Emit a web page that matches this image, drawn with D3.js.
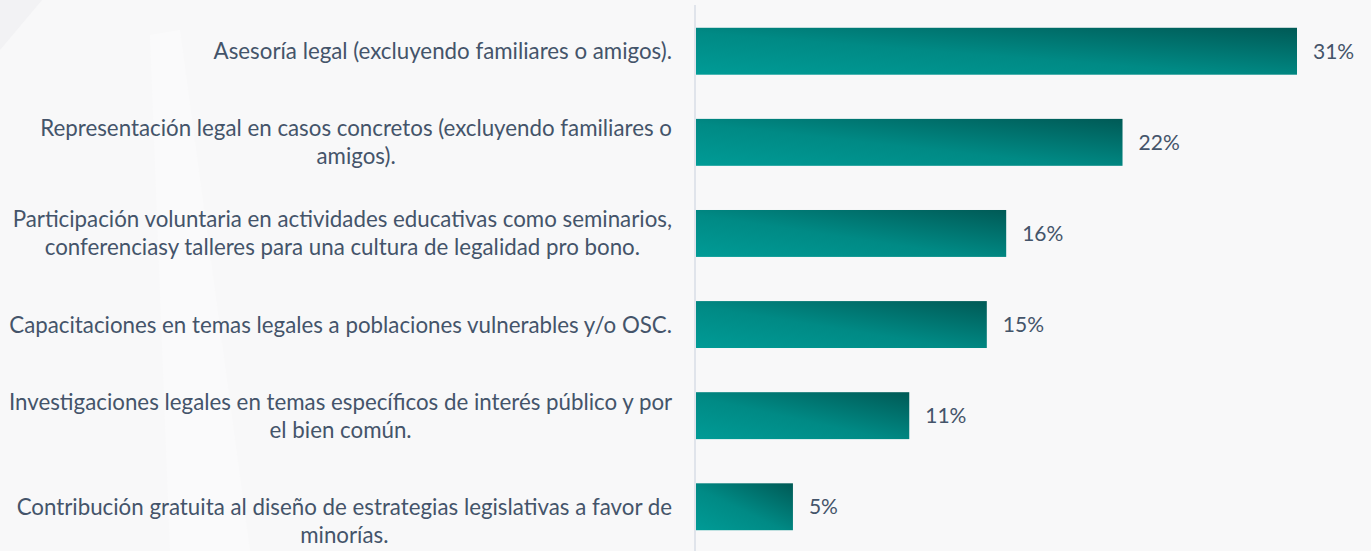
<!DOCTYPE html>
<html>
<head>
<meta charset="utf-8">
<script src="https://cdn.jsdelivr.net/npm/d3@7"></script>
<style>
  body { margin: 0; background: #f8f8f9; overflow: hidden; }
  svg { display: block; }
  .cat-label, .val-label { font-family: Lato, "Open Sans", sans-serif; fill: #44546a; }
</style>
</head>
<body>
<svg id="barChart"></svg>
<script>
// Data
const categories = [
  ["Asesoría legal (excluyendo familiares o amigos)."],
  ["Representación legal en casos concretos (excluyendo familiares o", "amigos)."],
  ["Participación voluntaria en actividades educativas como seminarios,", "conferenciasy talleres para una cultura de legalidad pro bono."],
  ["Capacitaciones en temas legales a poblaciones vulnerables y/o OSC."],
  ["Investigaciones legales en temas específicos de interés público y por", "el bien común."],
  ["Contribución gratuita al diseño de estrategias legislativas a favor de", "minorías."]
];
const values = [31, 22, 16, 15, 11, 5];

// Set dimensions and margins
const width = 1371;
const height = 551;
const margin = { top: 5, right: 74, bottom: 0, left: 696 };

const innerHeight = height - margin.top - margin.bottom;
const fontSize = 22.3;

const svg = d3.select("#barChart")
    .attr("width", width)
    .attr("height", height);

// faint background shapes
svg.append("rect").attr("width", width).attr("height", height).attr("fill", "#f8f8f9");
svg.append("polygon")
    .attr("points", "0,0 42,0 0,50")
    .attr("fill", "#f2f2f4");
svg.append("polygon")
    .attr("points", "150,35 180,30 250,551 170,551")
    .attr("fill", "#fafafb");

// gradient for bars
const grad = svg.append("defs").append("linearGradient")
    .attr("id", "barGrad")
    .attr("x1", "0").attr("y1", "1")
    .attr("x2", "1").attr("y2", "0");
grad.append("stop").attr("offset", "0%").attr("stop-color", "#009b96");
grad.append("stop").attr("offset", "45%").attr("stop-color", "#008a85");
grad.append("stop").attr("offset", "100%").attr("stop-color", "#005a56");

const chart = svg.append("g")
    .attr("transform", `translate(${margin.left}, ${margin.top})`);

// Scales
const x = d3.scaleLinear()
    .domain([0, 31])
    .range([0, 601]);

const y = d3.scaleBand()
    .domain(d3.range(values.length))
    .range([0, 548])
    .paddingInner(0.485)
    .paddingOuter(0.25);

// axis line
chart.append("line")
    .attr("x1", -1).attr("x2", -1)
    .attr("y1", 0).attr("y2", innerHeight)
    .attr("stroke", "#d9dee6")
    .attr("stroke-width", 1.5);

// Bars
chart.selectAll(".bar")
    .data(values)
    .enter()
    .append("rect")
    .attr("class", "bar")
    .attr("x", 0)
    .attr("y", (d, i) => y(i))
    .attr("width", d => x(d))
    .attr("height", y.bandwidth())
    .attr("fill", "url(#barGrad)");

// Value labels
chart.selectAll(".val-label")
    .data(values)
    .enter()
    .append("text")
    .attr("class", "val-label")
    .attr("x", d => x(d) + 16)
    .attr("y", (d, i) => y(i) + y.bandwidth() / 2)
    .attr("dy", "0.36em")
    .attr("font-size", 21)
    .text(d => d + "%");

// Category labels: block right-aligned to the axis, lines centred in block
const lineH = 28;
const last = categories.length - 1;
const labels = chart.selectAll(".cat-label")
    .data(categories)
    .enter()
    .append("text")
    .attr("class", "cat-label")
    .attr("text-anchor", "middle")
    .attr("font-size", fontSize)
    .attr("y", (d, i) => y(i) + y.bandwidth() / 2);

labels.selectAll("tspan")
    .data((d, i) => d.map((t, j) => ({ t, j, n: i === last ? 1 : d.length })))
    .enter()
    .append("tspan")
    .attr("dy", d => d.j === 0 ? (0.36 * fontSize - (d.n - 1) * lineH / 2) : lineH)
    .text(d => d.t);

labels.each(function() {
  const spans = d3.select(this).selectAll("tspan");
  const w = d3.max(spans.nodes(), n => n.getComputedTextLength());
  spans.attr("x", -24 - w / 2);
});
</script>
</body>
</html>
